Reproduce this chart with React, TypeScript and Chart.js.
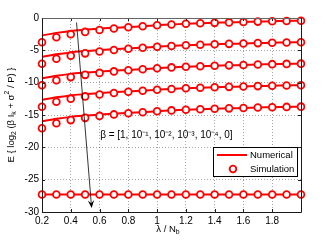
import React, { useEffect, useRef } from "react";
import { Chart, registerables } from "chart.js";

Chart.register(...registerables);

// λ / N_b sample points
const lambdaRatio = [0.2, 0.3, 0.4, 0.5, 0.6, 0.7, 0.8, 0.9, 1.0, 1.1, 1.2, 1.3, 1.4, 1.5, 1.6, 1.7, 1.8, 1.9, 2.0];

// Numerical curves, β = 1, 1e-1, 1e-2, 1e-3, 1e-4, 0
const numBeta1 = [-2.7, -2.3, -2.0, -1.8, -1.62, -1.5, -1.4, -1.27, -1.13, -1.0, -0.9, -0.82, -0.75, -0.68, -0.62, -0.56, -0.5, -0.46, -0.42];
const numBeta2 = [-6.02, -5.62, -5.32, -5.12, -4.94, -4.82, -4.72, -4.59, -4.45, -4.32, -4.22, -4.14, -4.07, -4.0, -3.94, -3.88, -3.82, -3.78, -3.74];
const numBeta3 = [-9.34, -8.94, -8.64, -8.44, -8.26, -8.14, -8.04, -7.91, -7.77, -7.64, -7.54, -7.46, -7.39, -7.32, -7.26, -7.2, -7.14, -7.1, -7.06];
const numBeta4 = [-12.67, -12.27, -11.97, -11.77, -11.59, -11.47, -11.37, -11.24, -11.1, -10.97, -10.87, -10.79, -10.72, -10.65, -10.59, -10.53, -10.47, -10.43, -10.39];
const numBeta5 = [-15.99, -15.59, -15.29, -15.09, -14.91, -14.79, -14.69, -14.56, -14.42, -14.29, -14.19, -14.11, -14.04, -13.97, -13.91, -13.85, -13.79, -13.75, -13.71];
const numBeta0 = [-27.3, -27.3, -27.3, -27.3, -27.3, -27.3, -27.3, -27.3, -27.3, -27.3, -27.3, -27.3, -27.3, -27.3, -27.3, -27.3, -27.3, -27.3, -27.3];

// Simulation points
const simBeta1 = [-3.76, -2.98, -2.5, -2.15, -1.85, -1.62, -1.44, -1.28, -1.13, -1.0, -0.9, -0.82, -0.75, -0.68, -0.62, -0.56, -0.5, -0.46, -0.42];
const simBeta2 = [-7.08, -6.3, -5.82, -5.47, -5.17, -4.94, -4.76, -4.6, -4.45, -4.32, -4.22, -4.14, -4.07, -4.0, -3.94, -3.88, -3.82, -3.78, -3.74];
const simBeta3 = [-10.4, -9.62, -9.14, -8.79, -8.49, -8.26, -8.08, -7.92, -7.77, -7.64, -7.54, -7.46, -7.39, -7.32, -7.26, -7.2, -7.14, -7.1, -7.06];
const simBeta4 = [-13.73, -12.95, -12.47, -12.12, -11.82, -11.59, -11.41, -11.25, -11.1, -10.97, -10.87, -10.79, -10.72, -10.65, -10.59, -10.53, -10.47, -10.43, -10.39];
const simBeta5 = [-17.05, -16.27, -15.79, -15.44, -15.14, -14.91, -14.73, -14.57, -14.42, -14.29, -14.19, -14.11, -14.04, -13.97, -13.91, -13.85, -13.79, -13.75, -13.71];
const simBeta0 = [-27.3, -27.3, -27.3, -27.3, -27.3, -27.3, -27.3, -27.3, -27.3, -27.3, -27.3, -27.3, -27.3, -27.3, -27.3, -27.3, -27.3, -27.3, -27.3];

const xTickValues = [0.2, 0.4, 0.6, 0.8, 1.0, 1.2, 1.4, 1.6, 1.8, 2.0];
const yTickValues = [0, -5, -10, -15, -20, -25, -30];

const legendLabels = ["Numerical", "Simulation"];
const betaNote = "β = [1, 10⁻¹, 10⁻², 10⁻³, 10⁻⁴, 0]";
const arrowFrom = { x: 0.44, y: -0.7 };
const arrowTo = { x: 0.545, y: -29.4 };
const noteAt = { x: 0.604, y: -18.2 };

const FONT = "'Liberation Sans', Arial, sans-serif";
const RED = "#ff0000";

type Seg = { t: string; s?: "sub" | "sup" };

function drawRich(ctx: CanvasRenderingContext2D, segs: Seg[], size: number) {
  const widths = segs.map((sg) => {
    ctx.font = `${sg.s ? size * 0.72 : size}px ${FONT}`;
    return ctx.measureText(sg.t).width;
  });
  const total = widths.reduce((a, b) => a + b, 0);
  let x = -total / 2;
  ctx.textBaseline = "middle";
  ctx.textAlign = "left";
  segs.forEach((sg, i) => {
    ctx.font = `${sg.s ? size * 0.72 : size}px ${FONT}`;
    const dy = sg.s === "sub" ? size * 0.32 : sg.s === "sup" ? -size * 0.38 : 0;
    ctx.fillText(sg.t, x, dy);
    x += widths[i];
  });
}

const overlay = {
  id: "overlay",
  afterDraw(chart: any) {
    const ctx: CanvasRenderingContext2D = chart.ctx;
    const { left, right, top, bottom } = chart.chartArea;
    const xs = chart.scales.x;
    const ys = chart.scales.y;
    ctx.save();

    // inner ticks
    ctx.strokeStyle = "#222";
    ctx.lineWidth = 1;
    ctx.beginPath();
    xTickValues.forEach((v) => {
      const px = Math.round(xs.getPixelForValue(v)) + 0.5;
      ctx.moveTo(px, bottom);
      ctx.lineTo(px, bottom - 3);
      ctx.moveTo(px, top);
      ctx.lineTo(px, top + 3);
    });
    yTickValues.forEach((v) => {
      const py = Math.round(ys.getPixelForValue(v)) + 0.5;
      ctx.moveTo(left, py);
      ctx.lineTo(left + 3, py);
      ctx.moveTo(right, py);
      ctx.lineTo(right - 3, py);
    });
    ctx.stroke();

    // axes box
    const L = Math.round(left) + 0.5, T = Math.round(top) + 0.5;
    const R = Math.round(right) + 0.5, B = Math.round(bottom) + 0.5;
    ctx.lineWidth = 1;
    ctx.strokeStyle = "#666";
    ctx.beginPath();
    ctx.moveTo(L, T);
    ctx.lineTo(R, T);
    ctx.stroke();
    ctx.strokeStyle = "#1a1a1a";
    ctx.beginPath();
    ctx.moveTo(R, T);
    ctx.lineTo(R, B);
    ctx.lineTo(L, B);
    ctx.lineTo(L, T);
    ctx.stroke();

    // arrow
    const x1 = xs.getPixelForValue(arrowFrom.x);
    const y1 = ys.getPixelForValue(arrowFrom.y);
    const x2 = xs.getPixelForValue(arrowTo.x);
    const y2 = ys.getPixelForValue(arrowTo.y);
    const ang = Math.atan2(y2 - y1, x2 - x1);
    const hl = 8;
    const hw = 3.2;
    ctx.strokeStyle = "#000";
    ctx.lineWidth = 0.8;
    ctx.beginPath();
    ctx.moveTo(x1, y1);
    ctx.lineTo(x2 - Math.cos(ang) * hl * 0.6, y2 - Math.sin(ang) * hl * 0.6);
    ctx.stroke();
    ctx.fillStyle = "#000";
    ctx.beginPath();
    ctx.moveTo(x2, y2);
    ctx.lineTo(x2 - Math.cos(ang) * hl + Math.sin(ang) * hw, y2 - Math.sin(ang) * hl - Math.cos(ang) * hw);
    ctx.lineTo(x2 - Math.cos(ang) * hl * 0.6, y2 - Math.sin(ang) * hl * 0.6);
    ctx.lineTo(x2 - Math.cos(ang) * hl - Math.sin(ang) * hw, y2 - Math.sin(ang) * hl + Math.cos(ang) * hw);
    ctx.closePath();
    ctx.fill();

    // beta note
    ctx.fillStyle = "#000";
    ctx.font = `10px ${FONT}`;
    ctx.textAlign = "left";
    ctx.textBaseline = "middle";
    ctx.fillText(betaNote, xs.getPixelForValue(noteAt.x), ys.getPixelForValue(noteAt.y));

    // legend
    const lx = 213.5, ly = 147.5, lw = 84, lh = 29;
    ctx.fillStyle = "#fff";
    ctx.fillRect(lx, ly, lw, lh);
    ctx.strokeStyle = "#000";
    ctx.lineWidth = 1;
    ctx.strokeRect(lx, ly, lw, lh);
    ctx.strokeStyle = RED;
    ctx.lineWidth = 2;
    ctx.beginPath();
    ctx.moveTo(217, 155);
    ctx.lineTo(247, 155);
    ctx.stroke();
    ctx.lineWidth = 1.8;
    ctx.fillStyle = "#fff";
    ctx.beginPath();
    ctx.arc(233, 169, 3.3, 0, Math.PI * 2);
    ctx.fill();
    ctx.stroke();
    ctx.fillStyle = "#000";
    ctx.font = `9.5px ${FONT}`;
    ctx.textAlign = "left";
    ctx.textBaseline = "middle";
    ctx.fillText(legendLabels[0], 250, 155.5);
    ctx.fillText(legendLabels[1], 250, 169.5);

    // x title
    ctx.fillStyle = "#000";
    ctx.save();
    ctx.translate(168, 229);
    drawRich(ctx, [{ t: "λ / N" }, { t: "b", s: "sub" }], 9.5);
    ctx.restore();

    // y title
    ctx.save();
    ctx.translate(11, 115);
    ctx.rotate(-Math.PI / 2);
    drawRich(
      ctx,
      [
        { t: "E { log" },
        { t: "2", s: "sub" },
        { t: " (β I" },
        { t: "k", s: "sub" },
        { t: " + σ" },
        { t: "2", s: "sup" },
        { t: " / P) }" },
      ],
      9.5
    );
    ctx.restore();

    ctx.restore();
  },
};

function lineSet(data: number[]) {
  return {
    type: "line" as const,
    data: data.map((v, i) => ({ x: lambdaRatio[i], y: v })),
    borderColor: RED,
    borderWidth: 2,
    pointRadius: 0,
    tension: 0.3,
    clip: false as any,
    order: 2,
  };
}

function simSet(data: number[]) {
  return {
    type: "line" as const,
    data: data.map((v, i) => ({ x: lambdaRatio[i], y: v })),
    showLine: false,
    borderColor: RED,
    backgroundColor: "#fff",
    pointBorderColor: RED,
    pointBackgroundColor: "#fff",
    pointBorderWidth: 1.8,
    pointRadius: 3.4,
    clip: false as any,
    order: 1,
  };
}

export default function App() {
  const ref = useRef<HTMLCanvasElement>(null);
  useEffect(() => {
    if (!ref.current) return;
    const tickFont = { family: FONT, size: 10 };
    const chart = new Chart(ref.current, {
      type: "line",
      data: {
        datasets: [
          simSet(simBeta1),
          simSet(simBeta2),
          simSet(simBeta3),
          simSet(simBeta4),
          simSet(simBeta5),
          simSet(simBeta0),
          lineSet(numBeta1),
          lineSet(numBeta2),
          lineSet(numBeta3),
          lineSet(numBeta4),
          lineSet(numBeta5),
          lineSet(numBeta0),
        ] as any,
      },
      options: {
        responsive: false,
        animation: false,
        devicePixelRatio: 1,
        layout: { padding: { left: 0, top: 18, right: 31, bottom: 0 } },
        plugins: { legend: { display: false }, tooltip: { enabled: false } },
        scales: {
          x: {
            type: "linear",
            min: 0.2,
            max: 2.0,
            afterBuildTicks: (s: any) => {
              s.ticks = xTickValues.map((v) => ({ value: v }));
            },
            afterFit: (s: any) => {
              s.height = 30;
            },
            ticks: {
              autoSkip: false,
              maxRotation: 0,
              padding: 3,
              color: "#000",
              font: tickFont,
              callback: (v: any) => (Math.abs(v - 2) < 1e-9 ? "" : String(Number(Number(v).toFixed(1)))),
            },
            grid: { color: "rgba(0,0,0,0.45)", lineWidth: 0.8, drawTicks: false },
            border: { display: false, dash: [1, 2] },
          },
          y: {
            type: "linear",
            min: -30,
            max: 0,
            afterBuildTicks: (s: any) => {
              s.ticks = yTickValues.map((v) => ({ value: v }));
            },
            afterFit: (s: any) => {
              s.width = 42;
            },
            ticks: { padding: 3, color: "#000", font: tickFont },
            grid: { color: "rgba(0,0,0,0.45)", lineWidth: 0.8, drawTicks: false },
            border: { display: false, dash: [1, 2] },
          },
        },
      },
      plugins: [overlay],
    });
    return () => chart.destroy();
  }, []);
  return (
    <div style={{ position: "fixed", left: 0, top: 0, width: 332, height: 242, background: "#fff" }}>
      <canvas ref={ref} width={332} height={242} style={{ display: "block", width: 332, height: 242 }} />
    </div>
  );
}
